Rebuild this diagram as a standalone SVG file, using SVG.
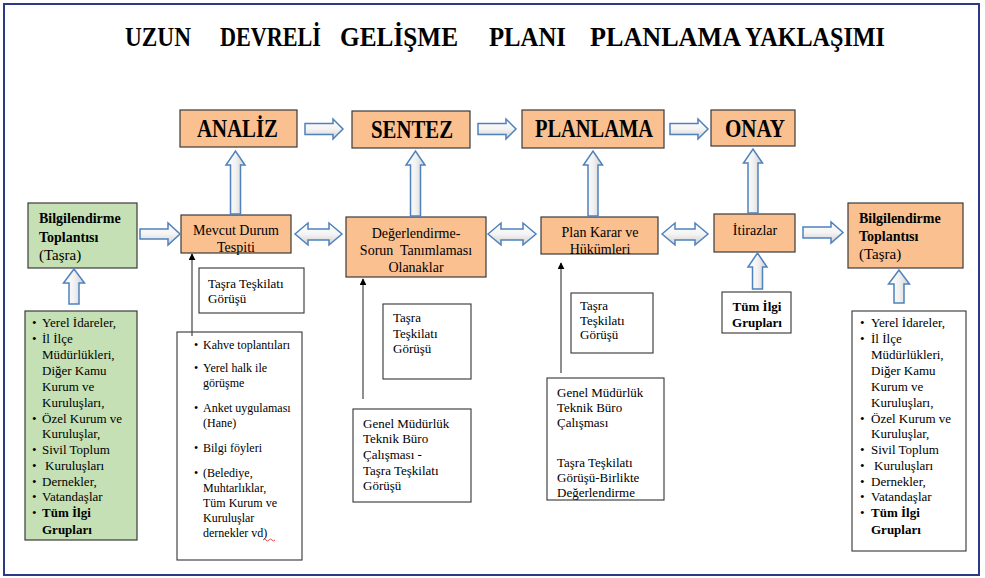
<svg xmlns="http://www.w3.org/2000/svg" width="985" height="578" viewBox="0 0 985 578">
<style>
text{font-family:"Liberation Serif","Times New Roman",serif;fill:#000}
.t{font-size:28px;font-weight:bold}
.h{font-size:25px;font-weight:bold}
.n{font-size:14px}
.s{font-size:13px}
.k{font-size:12px}
.b{font-weight:bold}
.or{fill:#fac090;stroke:#3a3a3a;stroke-width:1.2}
.gr{fill:#c5e0b4;stroke:#3a3a3a;stroke-width:1.2}
.wb{fill:#fff;stroke:#333;stroke-width:1.1}
.ah{fill:url(#gh);stroke:#4f81bd;stroke-width:1.5;stroke-linejoin:miter}
.av{fill:url(#gv);stroke:#4f81bd;stroke-width:1.5;stroke-linejoin:miter}
.ln{stroke:#444;stroke-width:1.2;fill:none}
</style>
<defs>
<linearGradient id="gh" x1="0" y1="0" x2="0" y2="1"><stop offset="0" stop-color="#ffffff"/><stop offset="0.5" stop-color="#f4f4f4"/><stop offset="1" stop-color="#cfcfcf"/></linearGradient>
<linearGradient id="gv" x1="0" y1="0" x2="1" y2="0"><stop offset="0" stop-color="#ffffff"/><stop offset="0.5" stop-color="#f2f2f2"/><stop offset="1" stop-color="#cfcfcf"/></linearGradient>
<marker id="tri" viewBox="0 0 10 10" refX="9" refY="5" markerWidth="7" markerHeight="7" orient="auto" markerUnits="userSpaceOnUse"><path d="M0,0 L10,5 L0,10 Z" fill="#000"/></marker>
</defs>
<rect x="0" y="0" width="985" height="578" fill="#fff"/>
<rect x="4" y="4" width="975" height="571" fill="none" stroke="#2e3a87" stroke-width="2"/>

<g id="title">
<text class="t" x="125" y="46" textLength="66" lengthAdjust="spacingAndGlyphs">UZUN</text>
<text class="t" x="220" y="46" textLength="101" lengthAdjust="spacingAndGlyphs">DEVRELİ</text>
<text class="t" x="340" y="46" textLength="118" lengthAdjust="spacingAndGlyphs">GELİŞME</text>
<text class="t" x="489" y="46" textLength="77" lengthAdjust="spacingAndGlyphs">PLANI</text>
<text class="t" x="590" y="46" textLength="151" lengthAdjust="spacingAndGlyphs">PLANLAMA</text>
<text class="t" x="745" y="46" textLength="140" lengthAdjust="spacingAndGlyphs">YAKLAŞIMI</text>
</g>

<g id="analiz"><rect class="or" x="180" y="110" width="117" height="37"/><text class="h" x="197" y="137" textLength="81" lengthAdjust="spacingAndGlyphs">ANALİZ</text></g>
<g id="sentez"><rect class="or" x="352" y="111" width="118" height="37"/><text class="h" x="371" y="138" textLength="82" lengthAdjust="spacingAndGlyphs">SENTEZ</text></g>
<g id="planlama"><rect class="or" x="522" y="110" width="142" height="38"/><text class="h" x="535" y="137" textLength="118" lengthAdjust="spacingAndGlyphs">PLANLAMA</text></g>
<g id="onay"><rect class="or" x="711" y="110" width="84" height="36"/><text class="h" x="725" y="137" textLength="60" lengthAdjust="spacingAndGlyphs">ONAY</text></g>

<g id="bilgi-sol"><rect class="gr" x="28" y="203" width="109" height="65"/>
<text class="n b" x="39" y="223">Bilgilendirme</text><text class="n b" x="39" y="242">Toplantısı</text><text class="n" x="39" y="260" style="font-size:15px">(Taşra)</text></g>

<g id="mevcut"><rect class="or" x="181" y="215" width="110" height="38"/>
<text class="n" x="236" y="235" text-anchor="middle">Mevcut Durum</text><text class="n" x="236" y="252" text-anchor="middle">Tespiti</text></g>

<g id="degerlendirme"><rect class="or" x="346" y="217" width="140" height="60"/>
<text class="n" x="416" y="238" text-anchor="middle">Değerlendirme-</text><text class="n" x="416" y="255" text-anchor="middle" xml:space="preserve">Sorun  Tanımlaması</text><text class="n" x="416" y="272" text-anchor="middle">Olanaklar</text></g>

<g id="plankarar"><rect class="or" x="541" y="217" width="117" height="37"/>
<text class="n" x="600" y="237" text-anchor="middle">Plan Karar ve</text><text class="n" x="600" y="254" text-anchor="middle">Hükümleri</text></g>

<g id="itirazlar"><rect class="or" x="714" y="214" width="81" height="38"/>
<text class="n" x="755" y="235" text-anchor="middle">İtirazlar</text></g>

<g id="bilgi-sag"><rect class="or" x="848" y="203" width="115" height="65"/>
<text class="n b" x="859" y="223">Bilgilendirme</text><text class="n b" x="859" y="241">Toplantısı</text><text class="n" x="859" y="259" style="font-size:15px">(Taşra)</text></g>

<g id="liste-sol"><rect class="gr" x="25" y="311" width="112" height="229"/>
<g class="s">
<text x="32" y="327">•</text><text x="42" y="327">Yerel İdareler,</text>
<text x="32" y="343">•</text><text x="42" y="343">İl İlçe</text>
<text x="42" y="359">Müdürlükleri,</text>
<text x="42" y="375">Diğer Kamu</text>
<text x="42" y="391">Kurum ve</text>
<text x="42" y="407">Kuruluşları,</text>
<text x="32" y="423">•</text><text x="42" y="423">Özel Kurum ve</text>
<text x="42" y="438">Kuruluşlar,</text>
<text x="32" y="454">•</text><text x="42" y="454">Sivil Toplum</text>
<text x="32" y="470">•</text><text x="45" y="470">Kuruluşları</text>
<text x="32" y="486">•</text><text x="42" y="486">Dernekler,</text>
<text x="32" y="501">•</text><text x="42" y="501">Vatandaşlar</text>
<text x="32" y="517">•</text><text class="b" x="42" y="517">Tüm İlgi</text>
<text class="b" x="42" y="534">Grupları</text>
</g></g>

<g id="kahve"><rect class="wb" x="177" y="332" width="125" height="228"/>
<g class="k">
<text x="194" y="349">•</text><text x="203" y="349">Kahve toplantıları</text>
<text x="194" y="372">•</text><text x="203" y="372">Yerel halk ile</text>
<text x="203" y="387">görüşme</text>
<text x="194" y="412">•</text><text x="203" y="412">Anket uygulaması</text>
<text x="203" y="427">(Hane)</text>
<text x="194" y="452">•</text><text x="203" y="452">Bilgi föyleri</text>
<text x="194" y="477">•</text><text x="203" y="477">(Belediye,</text>
<text x="203" y="492">Muhtarlıklar,</text>
<text x="203" y="507">Tüm Kurum ve</text>
<text x="203" y="522">Kuruluşlar</text>
<text x="203" y="537">dernekler vd)</text>
</g>
<path d="M263,540 q1.5,-2 3,0 t3,0 t3,0 t3,0" fill="none" stroke="#d62020" stroke-width="0.8"/>
</g>

<g id="tasra1"><rect class="wb" x="199" y="268" width="105" height="45"/>
<text class="s" x="208" y="288">Taşra Teşkilatı</text><text class="s" x="208" y="303">Görüşü</text></g>

<g id="tasra2"><rect class="wb" x="383" y="304" width="88" height="75"/>
<text class="s" x="393" y="322">Taşra</text><text class="s" x="393" y="338">Teşkilatı</text><text class="s" x="393" y="353">Görüşü</text></g>

<g id="genel1"><rect class="wb" x="353" y="409" width="118" height="93"/>
<text class="s" x="363" y="428">Genel Müdürlük</text><text class="s" x="363" y="443">Teknik Büro</text><text class="s" x="363" y="459">Çalışması -</text><text class="s" x="363" y="475">Taşra Teşkilatı</text><text class="s" x="363" y="490">Görüşü</text></g>

<g id="tasra3"><rect class="wb" x="571" y="293" width="82" height="60"/>
<text class="s" x="580" y="310">Taşra</text><text class="s" x="580" y="325">Teşkilatı</text><text class="s" x="580" y="339">Görüşü</text></g>

<g id="genel2"><rect class="wb" x="547" y="378" width="117" height="122"/>
<text class="s" x="557" y="397">Genel Müdürlük</text><text class="s" x="557" y="412">Teknik Büro</text><text class="s" x="557" y="427">Çalışması</text><text class="s" x="557" y="467">Taşra Teşkilatı</text><text class="s" x="557" y="482">Görüşü-Birlikte</text><text class="s" x="557" y="497">Değerlendirme</text></g>

<g id="tum-ilgi"><rect class="wb" x="722" y="292" width="69" height="41"/>
<text class="s b" x="757" y="311" text-anchor="middle">Tüm İlgi</text><text class="s b" x="757" y="327" text-anchor="middle">Grupları</text></g>

<g id="liste-sag"><rect class="wb" x="852" y="311" width="114" height="240"/>
<g class="s">
<text x="860" y="327">•</text><text x="871" y="327">Yerel İdareler,</text>
<text x="860" y="343">•</text><text x="871" y="343">İl İlçe</text>
<text x="871" y="359">Müdürlükleri,</text>
<text x="871" y="375">Diğer Kamu</text>
<text x="871" y="391">Kurum ve</text>
<text x="871" y="407">Kuruluşları,</text>
<text x="860" y="423">•</text><text x="871" y="423">Özel Kurum ve</text>
<text x="871" y="438">Kuruluşlar,</text>
<text x="860" y="454">•</text><text x="871" y="454">Sivil Toplum</text>
<text x="860" y="470">•</text><text x="874" y="470">Kuruluşları</text>
<text x="860" y="486">•</text><text x="871" y="486">Dernekler,</text>
<text x="860" y="501">•</text><text x="871" y="501">Vatandaşlar</text>
<text x="860" y="517">•</text><text class="b" x="871" y="517">Tüm İlgi</text>
<text class="b" x="871" y="534">Grupları</text>
</g></g>

<g id="connectors">
<path class="ah" d="M305,123.5 H333 V119 L343,129 L333,139 V134.5 H305 Z"/>
<path class="ah" d="M478,123.5 H506 V119 L516,129 L506,139 V134.5 H478 Z"/>
<path class="ah" d="M670,123.5 H698 V119 L708,129 L698,139 V134.5 H670 Z"/>
<path class="av" d="M230.5,214 V165 H226 L235.5,151 L245,165 H240.5 V214 Z"/>
<path class="av" d="M410.5,216 V165 H406 L415.5,151 L425,165 H420.5 V216 Z"/>
<path class="av" d="M588,216 V165 H583.5 L593,151 L602.5,165 H598 V216 Z"/>
<path class="av" d="M748,213 V163 H743.5 L753,149 L762.5,163 H758 V213 Z"/>
<path class="ah" d="M140,229 H168 V223 L180,234 L168,245 V239 H140 Z"/>
<path class="ah" d="M295,234 L308,223 V229 H329 V223 L342,234 L329,245 V240 H308 V245 Z"/>
<path class="ah" d="M488,234 L501,223 V229 H523 V223 L536,234 L523,245 V240 H501 V245 Z"/>
<path class="ah" d="M662,234 L675,223 V229 H695 V223 L708,234 L695,245 V240 H675 V245 Z"/>
<path class="ah" d="M803,227 H831 V222 L843,232.5 L831,243 V238 H803 Z"/>
<path class="av" d="M69,304 V283 H63.5 L74,269 L84.5,283 H79 V304 Z"/>
<path class="av" d="M752.5,289 V267 H748 L757.5,253 L767,267 H762.5 V289 Z"/>
<path class="av" d="M894,303 V284 H888.5 L899,270 L909.5,284 H904 V303 Z"/>
<line class="ln" x1="192" y1="336" x2="192" y2="254" marker-end="url(#tri)"/>
<line class="ln" x1="363" y1="399" x2="363" y2="279" marker-end="url(#tri)"/>
<line class="ln" x1="561" y1="373" x2="561" y2="263" marker-end="url(#tri)"/>
</g>
</svg>
